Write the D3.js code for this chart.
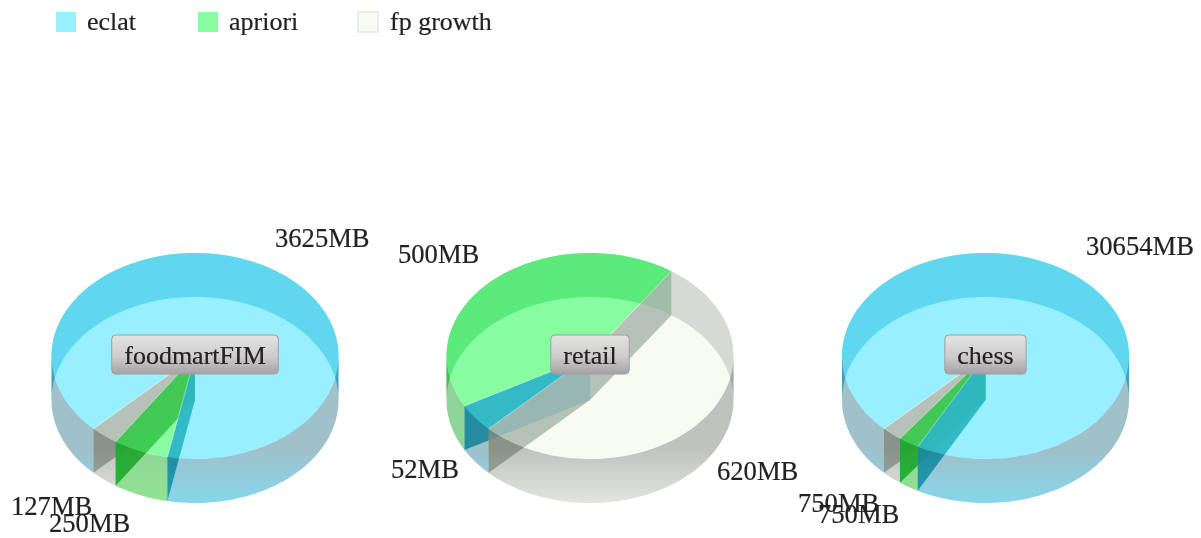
<!DOCTYPE html>
<html>
<head>
<meta charset="utf-8">
<script src="https://cdn.jsdelivr.net/npm/d3@7"></script>
<style>
html,body{margin:0;padding:0;background:#fff;}
svg{display:block;filter:blur(0.6px);}
text{font-family:"Liberation Serif","Times New Roman",serif;font-size:26px;fill:#222;stroke:#222;stroke-width:0.2px;}
text.value{font-size:26.6px;}
</style>
</head>
<body>
<svg id="chart" width="1201" height="538"></svg>
<script>
const datasets = ["foodmartFIM", "retail", "chess"];
const seriesNames = ["eclat", "apriori", "fp growth"];
const eclatValues = [3625, 52, 30654];
const aprioriValues = [250, 500, 750];
const fpGrowthValues = [127, 620, 750];

// layout, kept apart from the data
const pieCentres = [195, 590, 985.5];
const legendX = [56, 198, 358];
const labelAnchors = [
  [[275, 247], [49, 532], [11, 515]],
  [[391, 478], [398, 263], [717, 480]],
  [[1086, 255], [818, 523], [798, 512]]
];
const topColours = ["#97efff", "#88fca0", "#f7fbf2"];
const backColours = ["#5bd5ee", "#58e878", "#d4d6d0"];
const frontTop = ["#a0c0ca", "#8fd498", "#bfc2bd"];
const frontBottom = ["#86d6ec", "#92e492", "#e2e4df"];
const wallColours = ["#2eb6c4", "#3cc850", "#aab6ae"];
const wallAlpha = [0.95, 0.95, 0.85];

const rx = 143.5, ry = 103, depth = 44, cy = 356;
const TAU = 2 * Math.PI, DEG = Math.PI / 180;
const svg = d3.select("#chart");

const defs = svg.append("defs");
seriesNames.forEach((s, i) => {
  const g = defs.append("linearGradient").attr("id", "front" + i)
    .attr("gradientUnits", "userSpaceOnUse")
    .attr("x1", 0).attr("x2", 0).attr("y1", 10).attr("y2", ry + depth);
  g.append("stop").attr("offset", 0).attr("stop-color", frontTop[i]);
  g.append("stop").attr("offset", 0.6).attr("stop-color", frontTop[i]);
  g.append("stop").attr("offset", 1).attr("stop-color", frontBottom[i]);
});
const box = defs.append("linearGradient").attr("id", "labelBox")
  .attr("x1", 0).attr("x2", 0).attr("y1", 0).attr("y2", 1);
box.append("stop").attr("offset", 0).attr("stop-color", "#e6e2e2");
box.append("stop").attr("offset", 0.55).attr("stop-color", "#cfcccd");
box.append("stop").attr("offset", 1).attr("stop-color", "#a5a2a6");

const pie = d3.pie().sort(null)
  .startAngle(225 * DEG).endAngle(225 * DEG + TAU);
const arc = d3.arc().innerRadius(0).outerRadius(rx);
const px = a => rx * Math.sin(a);
const py = a => -ry * Math.cos(a);

// band of the wall between the rim and the rim pushed down by the depth
function band(a0, a1) {
  const n = Math.max(2, Math.ceil((a1 - a0) / (2 * DEG)));
  const as = d3.range(n + 1).map(k => a0 + (a1 - a0) * k / n);
  const up = as.map(a => [px(a), py(a)]);
  const dn = as.slice().reverse().map(a => [px(a), py(a) + depth]);
  return d3.line()(up.concat(dn)) + "Z";
}
function overlap(s, e, lo, hi) {
  const a = Math.max(s, lo), b = Math.min(e, hi);
  return b > a ? [a, b] : null;
}
function sideWall(a) {
  const pts = [[0, 0], [px(a), py(a)], [px(a), py(a) + depth], [0, depth]];
  return d3.line()(pts) + "Z";
}

datasets.forEach((name, p) => {
  const values = [eclatValues[p], aprioriValues[p], fpGrowthValues[p]];
  const slices = pie(values);
  const g = svg.append("g").attr("transform", `translate(${pieCentres[p]},${cy})`)
    .style("isolation", "isolate");

  // top faces
  g.selectAll("path.top").data(slices).join("path").attr("class", "top")
    .attr("d", arc)
    .attr("transform", `scale(1,${ry / rx})`)
    .attr("fill", (d, i) => topColours[i]);

  // back walls
  slices.forEach((d, i) => {
    const o = overlap(d.startAngle, d.endAngle, 270 * DEG, 450 * DEG);
    if (o) g.append("path").attr("d", band(o[0], o[1]))
      .attr("fill", backColours[i]).attr("fill-opacity", 0.92);
  });

  // inner walls that face the viewer, painted from the far one to the near one
  const norm = a => ((a % TAU) + TAU) % TAU;
  const walls = [];
  slices.forEach((d, i) => {
    if (norm(d.startAngle) < Math.PI) walls.push({ a: d.startAngle, i });
    if (norm(d.endAngle) > Math.PI) walls.push({ a: d.endAngle, i });
  });
  walls.sort((u, v) => py(u.a) - py(v.a));
  walls.forEach(w => {
    g.append("path").attr("d", sideWall(w.a))
      .attr("fill", wallColours[w.i]).attr("fill-opacity", wallAlpha[w.i]);
  });

  // thin light seams on the top face
  slices.forEach(d => {
    g.append("path")
      .attr("d", d3.line()([[0, 0], [px(d.startAngle), py(d.startAngle)]]))
      .attr("stroke", "#fff").attr("stroke-opacity", 0.4).attr("fill", "none");
  });

  // front walls, translucent over everything behind them
  slices.forEach((d, i) => {
    [[90, 270], [450, 630]].forEach(([lo, hi]) => {
      const o = overlap(d.startAngle, d.endAngle, lo * DEG, hi * DEG);
      if (o) g.append("path").attr("d", band(o[0], o[1]))
        .attr("fill", `url(#front${i})`)
        .style("mix-blend-mode", "multiply");
    });
  });

  // value labels
  slices.forEach((d, i) => {
    svg.append("text").attr("class", "value")
      .attr("x", labelAnchors[p][i][0]).attr("y", labelAnchors[p][i][1])
      .text(d.value + "MB");
  });

  // centre label
  const t = svg.append("text").attr("x", pieCentres[p]).attr("y", 364)
    .attr("text-anchor", "middle").text(name);
  const w = t.node().getComputedTextLength() + 25;
  svg.insert("rect", () => t.node())
    .attr("x", pieCentres[p] - w / 2).attr("y", 335)
    .attr("width", w).attr("height", 39).attr("rx", 4)
    .attr("fill", "url(#labelBox)").attr("stroke", "#a09ea2").attr("stroke-width", 1);
});

// legend
const legend = svg.selectAll("g.legend").data(seriesNames).join("g").attr("class", "legend")
  .attr("transform", (d, i) => `translate(${legendX[i]},0)`);
legend.append("rect").attr("x", 0).attr("y", 12).attr("width", 20).attr("height", 20)
  .attr("fill", (d, i) => topColours[i])
  .attr("stroke", (d, i) => i === 2 ? "#dededa" : "none");
legend.append("text").attr("x", (d, i) => i === 2 ? 32 : 31).attr("y", 30).text(d => d);
</script>
</body>
</html>
